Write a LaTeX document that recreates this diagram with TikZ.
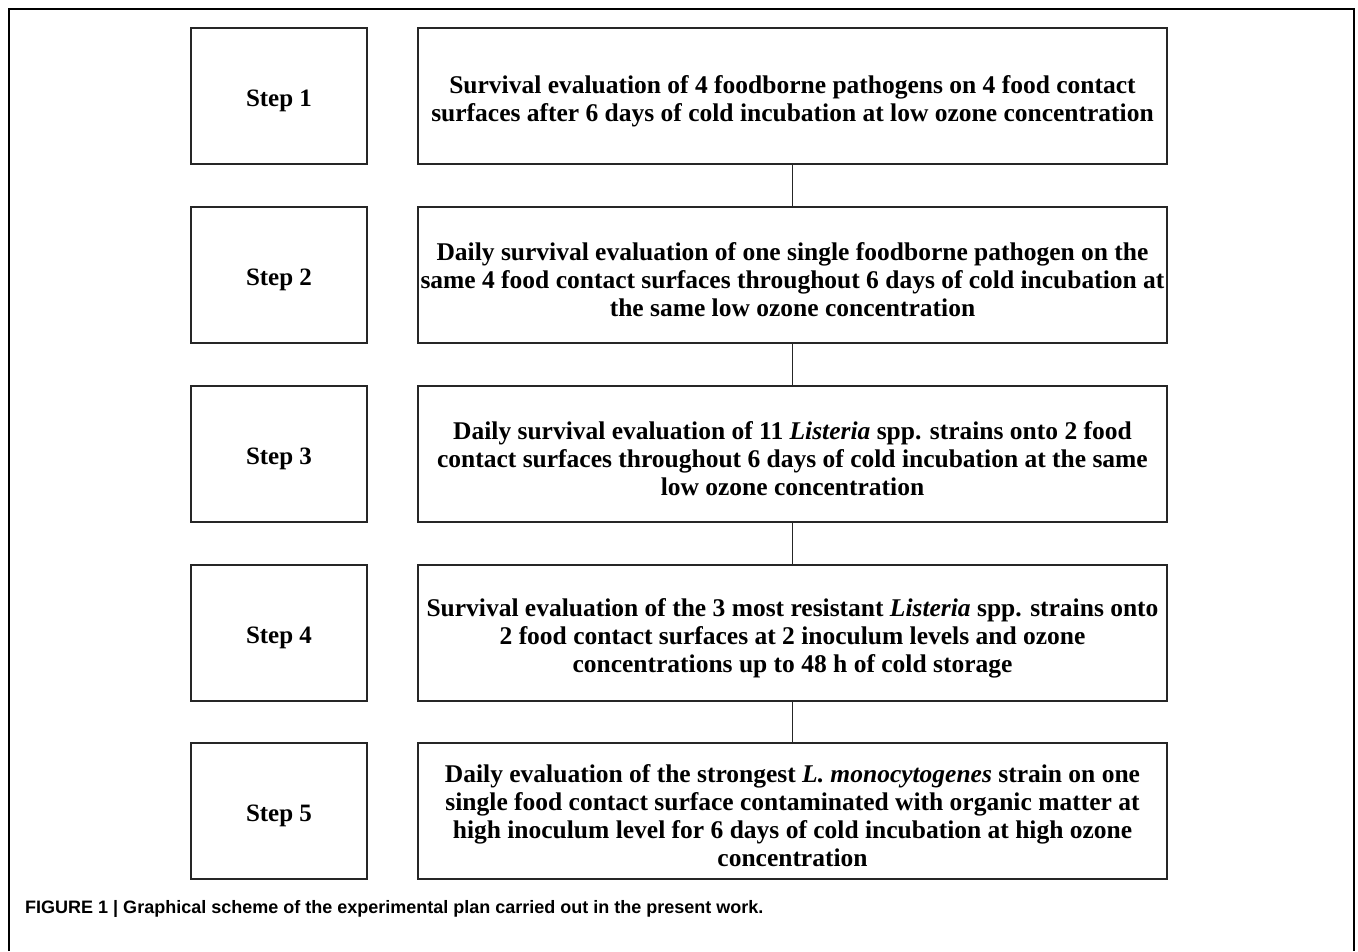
\documentclass[tikz,border=0pt]{standalone}
\usepackage{fontspec}
\setmainfont{Liberation Serif}
\newfontfamily\capfont{Liberation Sans}
\newcommand{\lowerstrut}{\rule{0pt}{26pt}}
\newcommand{\descstrut}{\rule{0pt}{28pt}}
\begin{document}
\begin{tikzpicture}[x=1pt,y=-1pt,
  stepbox/.style={draw=black!85,line width=1.2pt,minimum width=176pt,minimum height=136pt,inner sep=0pt,
    font=\fontsize{25}{30}\selectfont\bfseries,execute at begin node=\lowerstrut},
  descbox/.style={draw=black!85,line width=1.2pt,minimum width=749pt,minimum height=136pt,inner sep=0pt,
    align=center,font=\fontsize{25.5}{28}\selectfont\bfseries},
  link/.style={draw=black!85,line width=1.2pt}]
\useasboundingbox (0,0) rectangle (1358,951);
\draw[line width=2.5pt] (9,951) -- (9,9) -- (1354,9) -- (1354,951);
\node[stepbox] (s1) at (279,96) {Step 1};
\node[stepbox] (s2) at (279,275) {Step 2};
\node[stepbox] (s3) at (279,454) {Step 3};
\node[stepbox] (s4) at (279,633) {Step 4};
\node[stepbox] (s5) at (279,811) {Step 5};
\node[descbox] (d1) at (792.5,96) {\descstrut Survival evaluation of 4 foodborne pathogens on 4 food contact\\surfaces after 6 days of cold incubation at low ozone concentration};
\node[descbox] (d2) at (792.5,275) {\descstrut Daily survival evaluation of one single foodborne pathogen on the\\same 4 food contact surfaces throughout 6 days of cold incubation at\\the same low ozone concentration};
\node[descbox] (d3) at (792.5,454) {\descstrut Daily survival evaluation of 11 \textit{Listeria} spp. strains onto 2 food\\contact surfaces throughout 6 days of cold incubation at the same\\low ozone concentration};
\node[descbox] (d4) at (792.5,633) {\descstrut Survival evaluation of the 3 most resistant \textit{Listeria} spp. strains onto\\2 food contact surfaces at 2 inoculum levels and ozone\\concentrations up to 48 h of cold storage};
\node[descbox] (d5) at (792.5,811) {\descstrut Daily evaluation of the strongest \textit{L. monocytogenes} strain on one\\single food contact surface contaminated with organic matter at\\high inoculum level for 6 days of cold incubation at high ozone\\concentration};
\draw[link] (d1) -- (d2);
\draw[link] (d2) -- (d3);
\draw[link] (d3) -- (d4);
\draw[link] (d4) -- (d5);
\node[anchor=west,inner sep=0pt,font=\capfont\fontsize{18}{22}\selectfont\bfseries] (cap) at (25,909) {FIGURE 1 | Graphical scheme of the experimental plan carried out in the present work.};
\end{tikzpicture}
\end{document}
